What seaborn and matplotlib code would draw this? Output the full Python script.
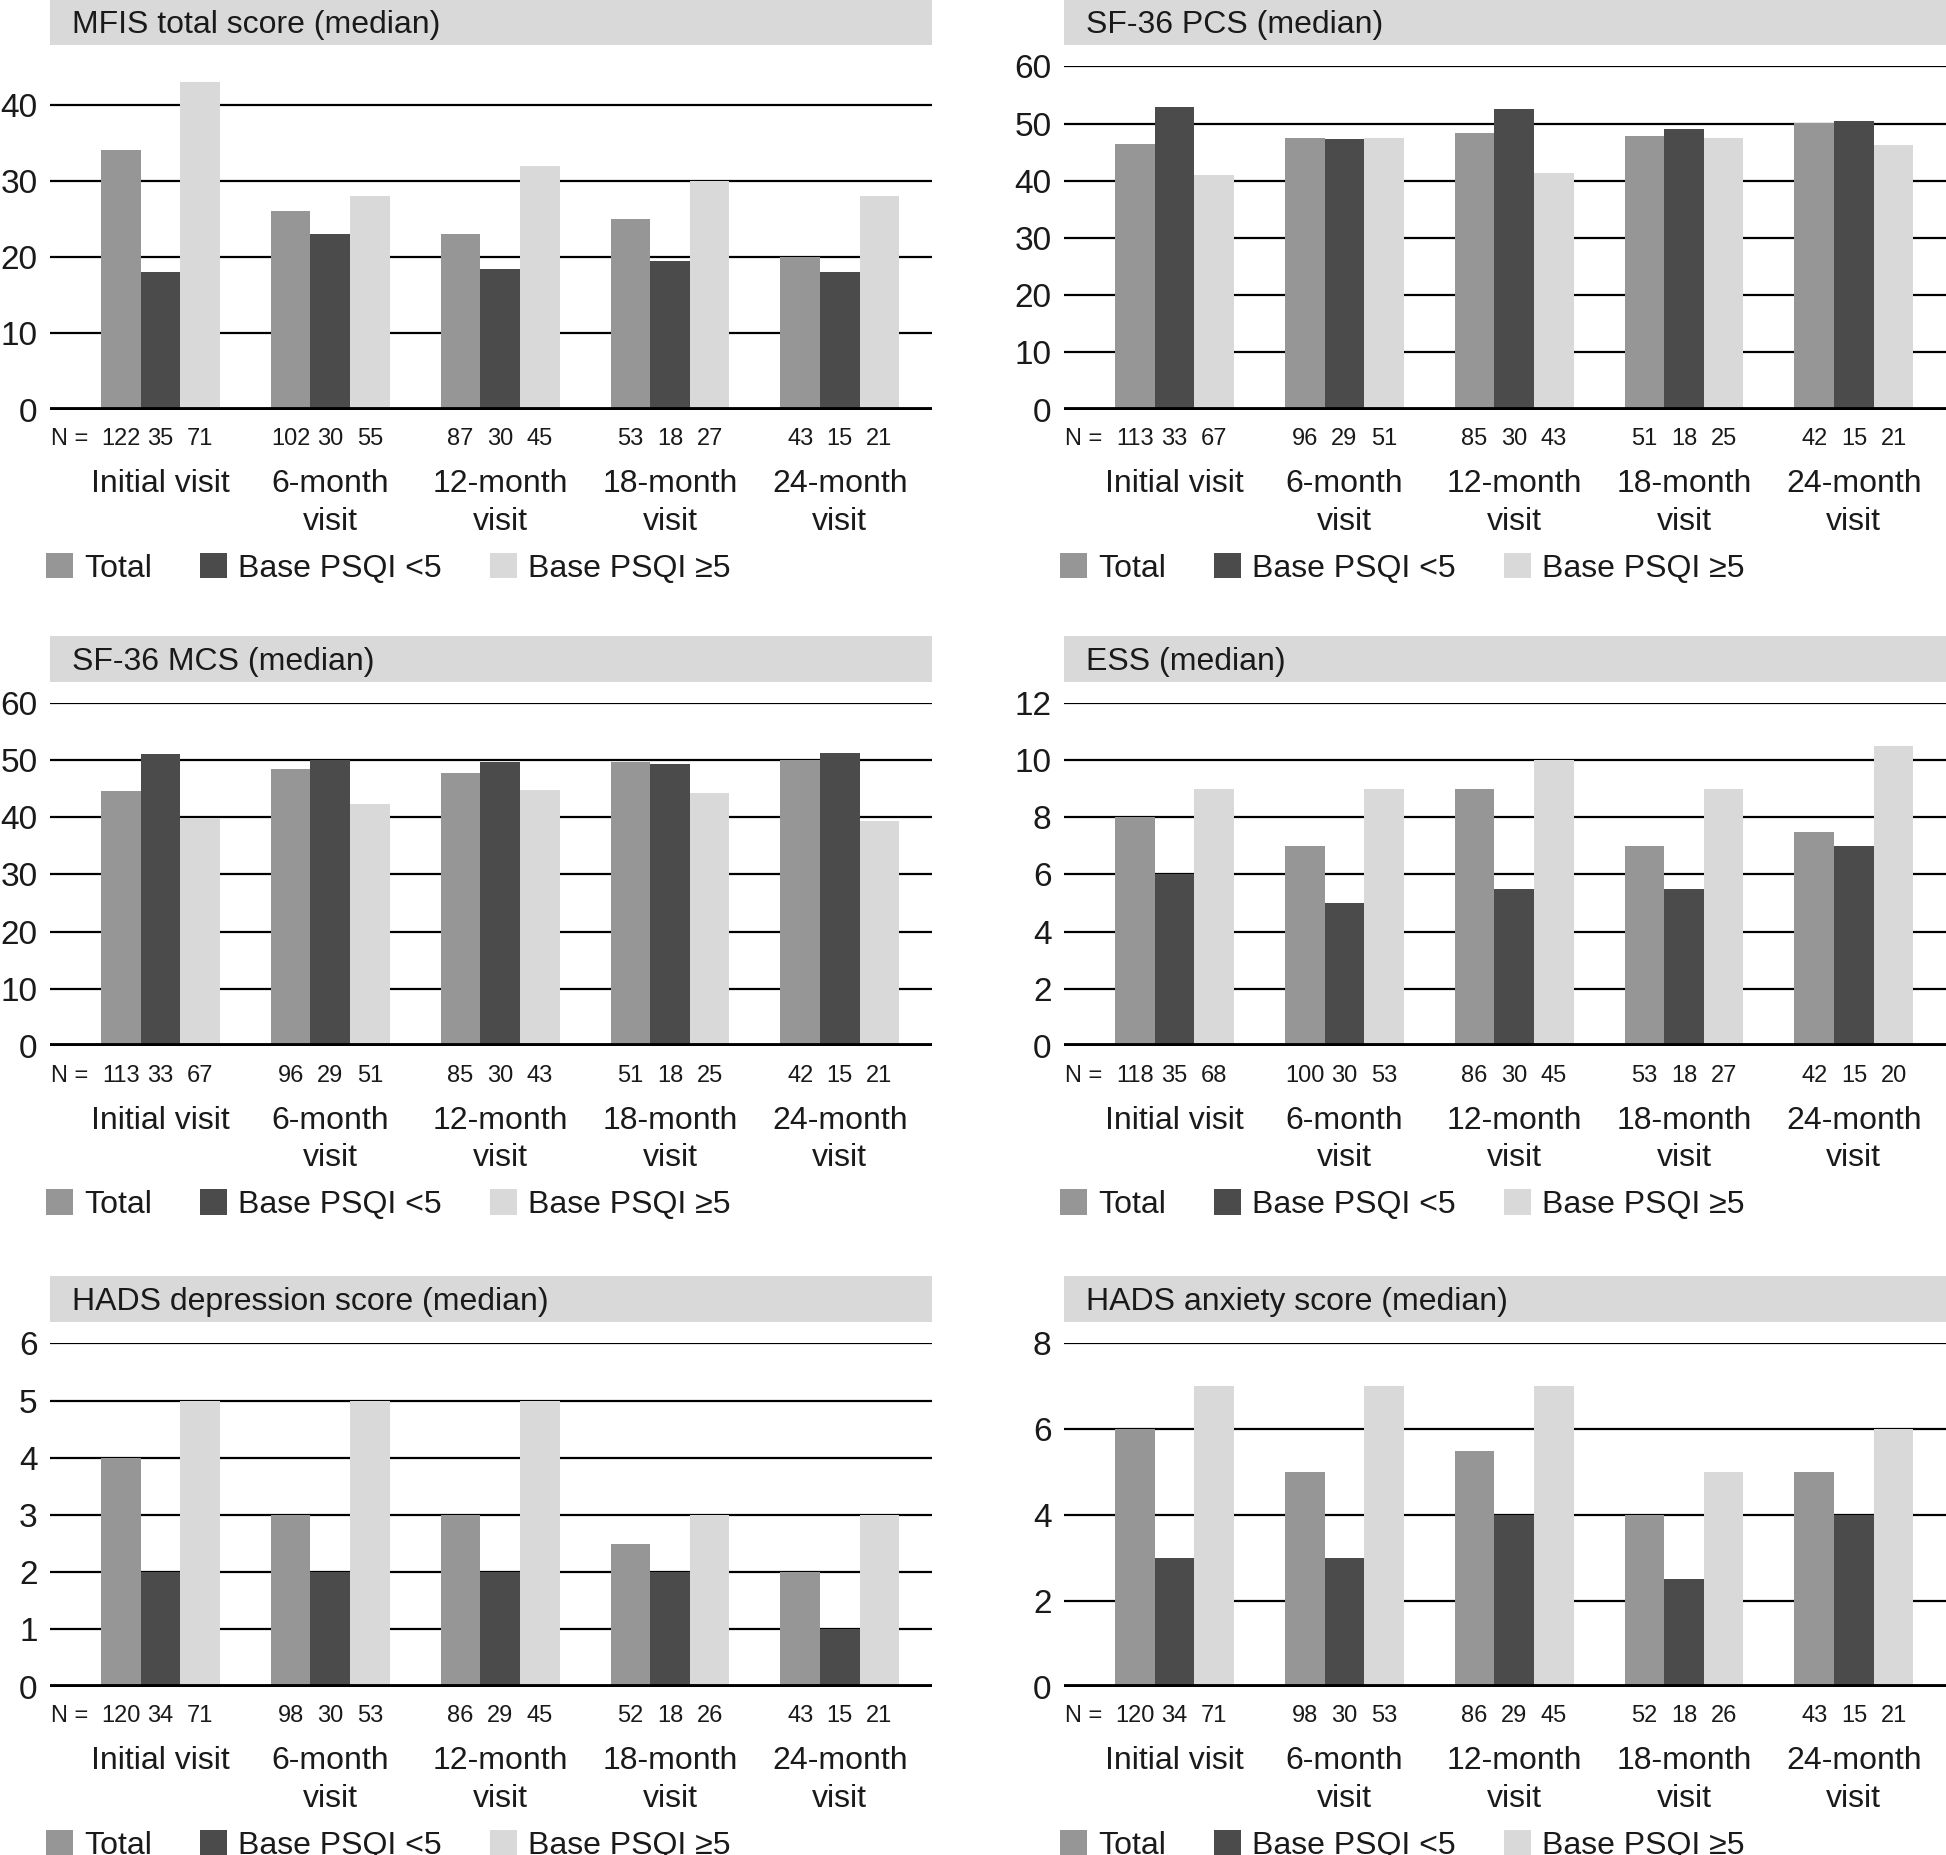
import numpy as np
import pandas as pd
import seaborn as sns
import matplotlib.pyplot as plt
from matplotlib.patches import Rectangle
from matplotlib.transforms import blended_transform_factory

# categories / groups
visits = ['Initial visit', '6-month\nvisit', '12-month\nvisit', '18-month\nvisit', '24-month\nvisit']
groups = ['Total', 'Base PSQI <5', 'Base PSQI \u22655']
colors = ['#969696', '#4b4b4b', '#d9d9d9']

# MFIS total score
mfis_total = [34, 26, 23, 25, 20]
mfis_good = [18, 23, 18.5, 19.5, 18]
mfis_poor = [43, 28, 32, 30, 28]
mfis_n = [[122, 35, 71], [102, 30, 55], [87, 30, 45], [53, 18, 27], [43, 15, 21]]

# SF-36 PCS
pcs_total = [46.4, 47.5, 48.4, 47.9, 50.1]
pcs_good = [52.9, 47.3, 52.5, 49.1, 50.5]
pcs_poor = [41.0, 47.5, 41.4, 47.5, 46.3]
pcs_n = [[113, 33, 67], [96, 29, 51], [85, 30, 43], [51, 18, 25], [42, 15, 21]]

# SF-36 MCS
mcs_total = [44.6, 48.5, 47.7, 49.6, 50.0]
mcs_good = [51.1, 50.0, 49.7, 49.3, 51.3]
mcs_poor = [39.8, 42.4, 44.7, 44.2, 39.4]
mcs_n = [[113, 33, 67], [96, 29, 51], [85, 30, 43], [51, 18, 25], [42, 15, 21]]

# ESS
ess_total = [8, 7, 9, 7, 7.5]
ess_good = [6, 5, 5.5, 5.5, 7]
ess_poor = [9, 9, 10, 9, 10.5]
ess_n = [[118, 35, 68], [100, 30, 53], [86, 30, 45], [53, 18, 27], [42, 15, 20]]

# HADS depression
dep_total = [4, 3, 3, 2.5, 2]
dep_good = [2, 2, 2, 2, 1]
dep_poor = [5, 5, 5, 3, 3]
dep_n = [[120, 34, 71], [98, 30, 53], [86, 29, 45], [52, 18, 26], [43, 15, 21]]

# HADS anxiety
anx_total = [6, 5, 5.5, 4, 5]
anx_good = [3, 3, 4, 2.5, 4]
anx_poor = [7, 7, 7, 5, 6]
anx_n = [[120, 34, 71], [98, 30, 53], [86, 29, 45], [52, 18, 26], [43, 15, 21]]

panels = [
    ('MFIS total score (median)', (mfis_total, mfis_good, mfis_poor), mfis_n, 45, [0, 10, 20, 30, 40]),
    ('SF-36 PCS (median)', (pcs_total, pcs_good, pcs_poor), pcs_n, 60, [0, 10, 20, 30, 40, 50, 60]),
    ('SF-36 MCS (median)', (mcs_total, mcs_good, mcs_poor), mcs_n, 60, [0, 10, 20, 30, 40, 50, 60]),
    ('ESS (median)', (ess_total, ess_good, ess_poor), ess_n, 12, [0, 2, 4, 6, 8, 10, 12]),
    ('HADS depression score (median)', (dep_total, dep_good, dep_poor), dep_n, 6, [0, 1, 2, 3, 4, 5, 6]),
    ('HADS anxiety score (median)', (anx_total, anx_good, anx_poor), anx_n, 8, [0, 2, 4, 6, 8]),
]

sns.set_style('white')
plt.rcParams['font.family'] = ['Liberation Sans', 'DejaVu Sans']
txt = '#1a1a1a'

fig = plt.figure(figsize=(19.46, 18.55), dpi=100)
lefts = [0.0257, 0.5468]
bottoms = [0.7792, 0.4361, 0.0908]
w, h = 0.4530, 0.1850

for i, (title, vals, ns, ymax, yticks) in enumerate(panels):
    ax = fig.add_axes([lefts[i % 2], bottoms[i // 2], w, h])
    df = pd.DataFrame({
        'visit': visits * 3,
        'group': np.repeat(groups, len(visits)),
        'value': list(vals[0]) + list(vals[1]) + list(vals[2]),
    })
    sns.barplot(data=df, x='visit', y='value', hue='group', order=visits,
                hue_order=groups, palette=colors, saturation=1, width=0.7,
                errorbar=None, edgecolor='none', linewidth=0, ax=ax)

    ax.set_xlim(-0.65, 4.54)
    ax.set_ylim(0, ymax)
    ax.set_yticks(yticks)
    ax.set_xlabel('')
    ax.set_ylabel('')
    for s in ax.spines.values():
        s.set_visible(False)
    ax.yaxis.grid(True, color='black', lw=1.6)
    ax.xaxis.grid(False)
    ax.set_axisbelow(True)
    ax.axhline(0, color='black', lw=4.2, zorder=5)
    ax.tick_params(axis='y', length=0, pad=9, labelsize=24, labelcolor=txt)
    ax.tick_params(axis='x', length=0, pad=43, labelsize=23, labelcolor=txt)
    for lbl in ax.get_xticklabels():
        lbl.set_linespacing(1.32)

    # N labels under each bar
    trans = blended_transform_factory(ax.transData, ax.transAxes)
    for gi, cont in enumerate(ax.containers):
        for vi, bar in enumerate(cont):
            x = bar.get_x() + bar.get_width() / 2
            ax.text(x, -0.087, str(ns[vi][gi]), transform=trans, ha='center',
                    va='center', fontsize=17, color=txt)
    ax.text(0.043, -0.087, 'N =', transform=ax.transAxes, ha='right',
            va='center', fontsize=17, color=txt)

    # title strip
    ax.add_patch(Rectangle((0, 1 + 21 / 343), 1, 46 / 343, transform=ax.transAxes,
                           facecolor='#d9d9d9', edgecolor='none', clip_on=False))
    ax.text(0.025, 1 + 41 / 343, title, transform=ax.transAxes, ha='left',
            va='center', fontsize=23, color=txt)

    handles, labels = ax.get_legend_handles_labels()
    ax.legend(handles, labels, loc='center left', bbox_to_anchor=(-0.005, -0.462),
              ncol=3, frameon=False, fontsize=23, handlelength=0.85,
              handleheight=0.85, handletextpad=0.35, columnspacing=1.5,
              borderpad=0, borderaxespad=0, labelcolor=txt)

fig.savefig('out.png', dpi=100, facecolor='white')
